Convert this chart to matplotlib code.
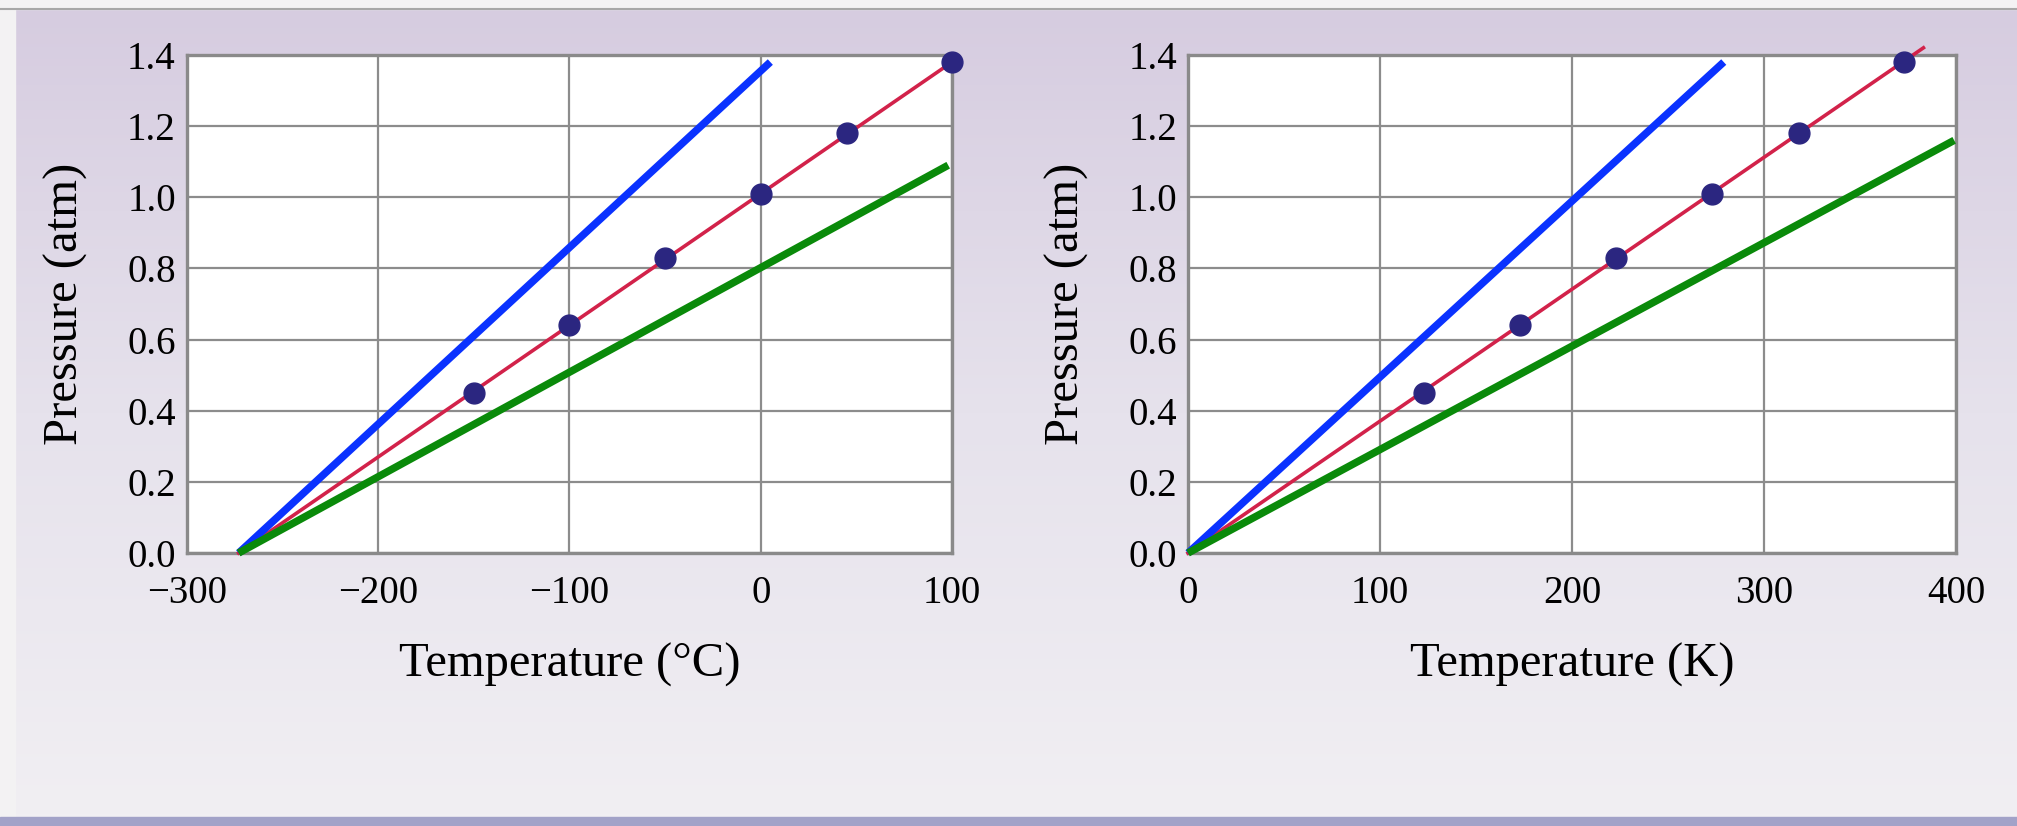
import numpy as np
import matplotlib
matplotlib.use("Agg")
import matplotlib.pyplot as plt
from matplotlib.colors import LinearSegmentedColormap

plt.rcParams['font.family'] = ['Liberation Serif', 'DejaVu Serif']

# measured points (same gas, two temperature scales)
temp_c = [-150, -100, -50, 0, 45, 100]
temp_k = [123, 173, 223, 273, 318, 373]
pressure = [0.45, 0.64, 0.83, 1.01, 1.18, 1.38]

# fitted red line, extended to absolute zero
red_c = [-273, 100]
red_c_p = [0.0, 1.38]
red_k = [0, 383]
red_k_p = [0.0, 1.42]

# other gases (blue / green lines)
blue_c = [-273, 5]
blue_c_p = [0.0, 1.38]
green_c = [-273, 98]
green_c_p = [0.0, 1.09]
blue_k = [0, 279]
blue_k_p = [0.0, 1.38]
green_k = [0, 399]
green_k_p = [0.0, 1.16]

xticks_c = [-300, -200, -100, 0, 100]
xticks_k = [0, 100, 200, 300, 400]
yticks = [0.0, 0.2, 0.4, 0.6, 0.8, 1.0, 1.2, 1.4]

fig = plt.figure(figsize=(20.17, 8.26), dpi=100)

# background: white strips + lavender gradient + bottom bar
bg = fig.add_axes([0, 0, 1, 1], zorder=-10)
bg.set_axis_off()
cmap = LinearSegmentedColormap.from_list("bgc", ["#d6cce0", "#e6e2ec", "#f1eff3"])
grad = np.linspace(0, 1, 256).reshape(-1, 1)
bg.imshow(grad, aspect='auto', cmap=cmap, extent=[15, 2017, 817, 9], zorder=0)
bg.set_xlim(0, 2017)
bg.set_ylim(826, 0)
bg.axvspan(0, 15, color="#f3f2f3", zorder=1)
bg.axhspan(0, 9, color="#f4f3f4", zorder=1)
bg.axhline(9, color="#a8a8a8", lw=1.5, zorder=2)
bg.axhspan(817, 826, color="#a2a2c8", zorder=1)

ax1 = fig.add_axes([0.0927, 0.3305, 0.3793, 0.603])
ax2 = fig.add_axes([0.589, 0.3305, 0.3808, 0.603])

panels = [
    (ax1, temp_c, red_c, red_c_p, blue_c, blue_c_p, green_c, green_c_p, xticks_c, "Temperature (°C)"),
    (ax2, temp_k, red_k, red_k_p, blue_k, blue_k_p, green_k, green_k_p, xticks_k, "Temperature (K)"),
]

for ax, tx, rx, ry, bx, by, gx, gy, xt, xl in panels:
    ax.set_facecolor("white")
    ax.plot(rx, ry, color="#d2224a", lw=2.6, zorder=3, clip_on=False)
    ax.plot(bx, by, color="#0a32ff", lw=5.4, zorder=4, clip_on=False, solid_capstyle='butt')
    ax.plot(gx, gy, color="#0a8a0a", lw=5.4, zorder=4, clip_on=False, solid_capstyle='butt')
    ax.plot(tx, pressure, 'o', color="#2b2680", ms=15, zorder=5, clip_on=False)
    ax.set_xlim(xt[0], xt[-1])
    ax.set_ylim(0, 1.4)
    ax.set_xticks(xt)
    ax.set_yticks(yticks)
    ax.set_yticklabels([f"{v:.1f}" for v in yticks])
    ax.grid(True, color="#8c8c8c", lw=1.6)
    ax.set_axisbelow(True)
    for s in ax.spines.values():
        s.set_color("#8a8a8a")
        s.set_linewidth(2.4)
    ax.tick_params(length=0, labelsize=28)
    ax.tick_params(axis='x', pad=16)
    ax.tick_params(axis='y', pad=8)
    ax.set_xlabel(xl, fontsize=35, labelpad=22)
    ax.set_ylabel("Pressure (atm)", fontsize=35, labelpad=28)

fig.savefig("out.png", dpi=100)
